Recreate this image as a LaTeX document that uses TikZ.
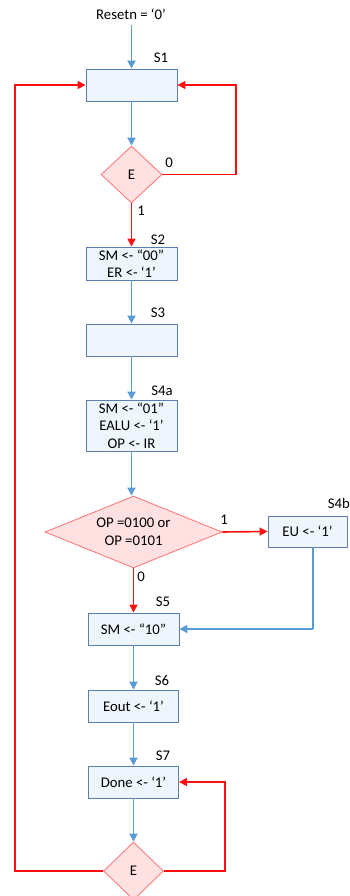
\documentclass[tikz,border=0pt]{standalone}
\usepackage{fontspec}
\setmainfont{Carlito}
\usetikzlibrary{shapes.geometric,arrows.meta}
\definecolor{boxfill}{HTML}{EEF5FC}
\definecolor{boxline}{HTML}{5A7FAE}
\definecolor{flowblue}{HTML}{5B9BD5}
\definecolor{dfill}{HTML}{FFE1E1}
\definecolor{dline}{HTML}{FF7C7C}
\definecolor{flowred}{HTML}{FF1010}
\tikzset{
  statebox/.style={draw=boxline, fill=boxfill, line width=0.9pt, rectangle, inner sep=0pt, align=center,
    font=\fontsize{14.75}{17.5}\selectfont},
  decision/.style={draw=dline, fill=dfill, line width=0.9pt, diamond, inner sep=0pt, align=center,
    font=\fontsize{14.75}{17.5}\selectfont},
  lbl/.style={font=\fontsize{14.75}{16}\selectfont, inner sep=0pt},
  bluearrow/.style={draw=flowblue, line width=1.8pt, -{Triangle[length=8pt,width=8pt]}},
  bluewire/.style={draw=flowblue, line width=1.8pt},
  redarrow/.style={draw=flowred, line width=1.6pt, -{Triangle[length=8pt,width=8pt]}},
}
\begin{document}
\begin{tikzpicture}[x=1pt,y=-1pt]
\useasboundingbox (0,0) rectangle (349,896);
% nodes
\node[lbl] (reset) at (131,14) {Resetn = ‘0’};
\node[statebox, minimum width=91pt, minimum height=32pt] (s1) at (131.5,85) {};
\node[decision, minimum width=61pt, minimum height=57pt] (e1) at (131.5,174.5) {E};
\node[statebox, minimum width=91pt, minimum height=33pt] (s2) at (131.5,263.5) {SM <- “00”\\ER <- ‘1’};
\node[statebox, minimum width=91pt, minimum height=32pt] (s3) at (131.5,340) {};
\node[statebox, minimum width=91pt, minimum height=51pt] (s4a) at (131.5,425.5) {SM <- “01”\\EALU <- ‘1’\\OP <- IR};
\node[decision, shape aspect=2.46, minimum width=177pt, minimum height=72pt] (d1) at (133.5,532) {OP =0100 or\\OP =0101};
\node[statebox, minimum width=79pt, minimum height=31pt] (s4b) at (307.5,531.5) {EU <- ‘1’};
\node[statebox, minimum width=91pt, minimum height=32pt] (s5) at (133.5,629) {SM <- “10”};
\node[statebox, minimum width=90pt, minimum height=32pt] (s6) at (133.5,706) {Eout <- ‘1’};
\node[statebox, minimum width=90pt, minimum height=32pt] (s7) at (133.5,782) {Done <- ‘1’};
\node[decision, minimum width=60pt, minimum height=58pt] (e2) at (133.5,871) {E};
% state labels
\node[lbl] (l1) at (161,58) {S1};
\node[lbl] (l2) at (158,240) {S2};
\node[lbl] (l3) at (158,313) {S3};
\node[lbl] (l4a) at (162,391) {S4a};
\node[lbl, anchor=east] (l4b) at (350,503) {S4b};
\node[lbl] (l5) at (163,602) {S5};
\node[lbl] (l6) at (162,681) {S6};
\node[lbl] (l7) at (163,756) {S7};
% branch labels
\node[lbl] (z1) at (169,163) {0};
\node[lbl] (o1) at (141,211) {1};
\node[lbl] (o2) at (224,520) {1};
\node[lbl] (z2) at (141,577) {0};
% coordinates
\coordinate (r1) at (236,174.5);
\coordinate (r2) at (236,85);
\coordinate (b1) at (313,629);
\coordinate (q1) at (225,871);
\coordinate (q2) at (225,782);
\coordinate (p1) at (15,871);
\coordinate (p2) at (15,85);
\coordinate (top) at (131.5,25);
% blue flow
\draw[bluearrow] (top) -- (s1.north);
\draw[bluearrow] (s1.south) -- (e1.north);
\draw[bluearrow] (s2.south) -- (s3.north);
\draw[bluearrow] (s3.south) -- (s4a.north);
\draw[bluearrow] (s4a.south) -- (s4a.south |- d1.north);
\draw[bluearrow] (s5.south) -- (s6.north);
\draw[bluearrow] (s6.south) -- (s7.north);
\draw[bluearrow] (s7.south) -- (e2.north);
\draw[bluewire] (s4b.south -| b1) -- (b1);
\draw[bluearrow] (b1) -- (s5.east);
% red flow
\draw[redarrow] (e1.south) -- (s2.north);
\draw[redarrow] (e1.east) -- (r1) -- (r2) -- (s1.east);
\draw[redarrow] (d1.east) -- (s4b.west);
\draw[redarrow] (d1.south) -- (s5.north);
\draw[redarrow] (e2.east) -- (q1) -- (q2) -- (s7.east);
\draw[redarrow] (e2.west) -- (p1) -- (p2) -- (s1.west);
\end{tikzpicture}
\end{document}
